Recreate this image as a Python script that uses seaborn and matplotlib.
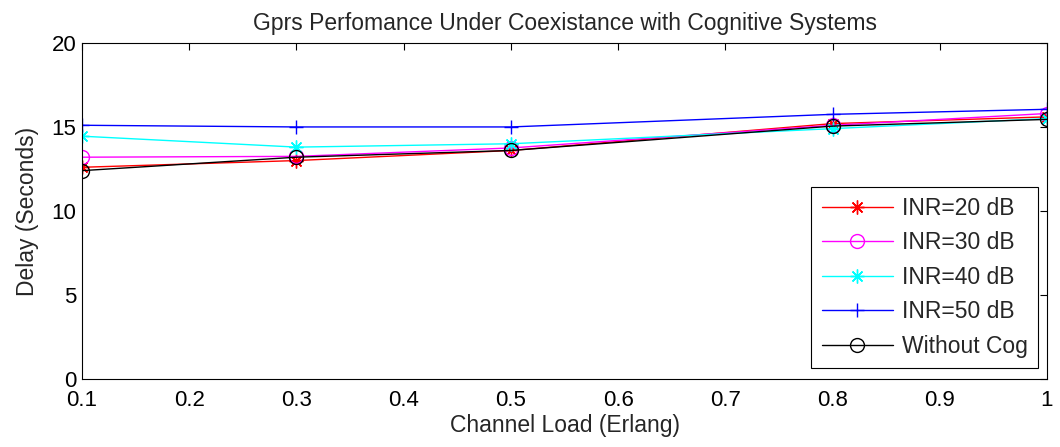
import matplotlib
matplotlib.use("Agg")
import matplotlib.pyplot as plt
import seaborn as sns
import pandas as pd

# Channel load (Erlang) and mean delay (seconds) per interference level
channel_load = [0.1, 0.3, 0.5, 0.8, 1.0]
delay_inr20 = [12.6, 13.0, 13.6, 15.2, 15.6]
delay_inr30 = [13.2, 13.25, 13.75, 15.1, 15.8]
delay_inr40 = [14.45, 13.8, 14.0, 14.9, 15.5]
delay_inr50 = [15.1, 15.0, 15.0, 15.75, 16.05]
delay_nocog = [12.4, 13.2, 13.6, 15.05, 15.45]

series_labels = ["INR=20 dB", "INR=30 dB", "INR=40 dB", "INR=50 dB", "Without Cog"]
series_values = [delay_inr20, delay_inr30, delay_inr40, delay_inr50, delay_nocog]
series_colors = ["#ff0000", "#ff00ff", "#00ffff", "#0000ff", "#000000"]
# asterisk = eight-armed star, as in MATLAB '*'
series_markers = [(8, 2, 0), "o", (8, 2, 0), "+", "o"]

x_ticks = [0.1, 0.2, 0.3, 0.4, 0.5, 0.6, 0.7, 0.8, 0.9, 1]
x_ticklabels = ["0.1", "0.2", "0.3", "0.4", "0.5", "0.6", "0.7", "0.8", "0.9", "1"]
y_ticks = [0, 5, 10, 15, 20]

sns.set_style("white")
plt.rcParams["font.family"] = ["Liberation Sans", "DejaVu Sans"]

fig = plt.figure(figsize=(10.6, 4.47), dpi=100)
ax = fig.add_axes([0.0774, 0.152, 0.9103, 0.752])

for lab, vals, col, mk in zip(series_labels, series_values, series_colors, series_markers):
    df = pd.DataFrame({"load": channel_load, "delay": vals})
    sns.lineplot(data=df, x="load", y="delay", ax=ax, color=col, marker=mk,
                 markersize=10, markerfacecolor="none", markeredgecolor=col,
                 markeredgewidth=1.0, linewidth=1.0, label=lab)

ax.set_xlim(0.1, 1)
ax.set_ylim(0, 20)
ax.set_xticks(x_ticks)
ax.set_xticklabels(x_ticklabels)
ax.set_yticks(y_ticks)
ax.tick_params(direction="in", length=5, width=0.8, labelsize=16, colors="black",
               top=True, right=True)
ax.tick_params(axis="x", pad=8)
ax.tick_params(axis="y", pad=4)
for s in ax.spines.values():
    s.set_visible(True)
    s.set_color("black")
    s.set_linewidth(0.8)

ax.set_xlabel("Channel Load (Erlang)", fontsize=16.5, labelpad=2)
ax.set_ylabel("Delay (Seconds)", fontsize=16.5, labelpad=9)
ax.set_title("Gprs Perfomance Under Coexistance with Cognitive Systems", fontsize=16.5, pad=9)

leg = ax.legend(loc="lower right", bbox_to_anchor=(0.9907, 0.0327), fontsize=16.5,
                frameon=True, fancybox=False, edgecolor="black", framealpha=1,
                handlelength=3.1, borderpad=0.45, borderaxespad=0,
                labelspacing=0.5, handletextpad=0.4)
leg.get_frame().set_linewidth(0.8)

fig.savefig("out.png", dpi=100, facecolor="white")
